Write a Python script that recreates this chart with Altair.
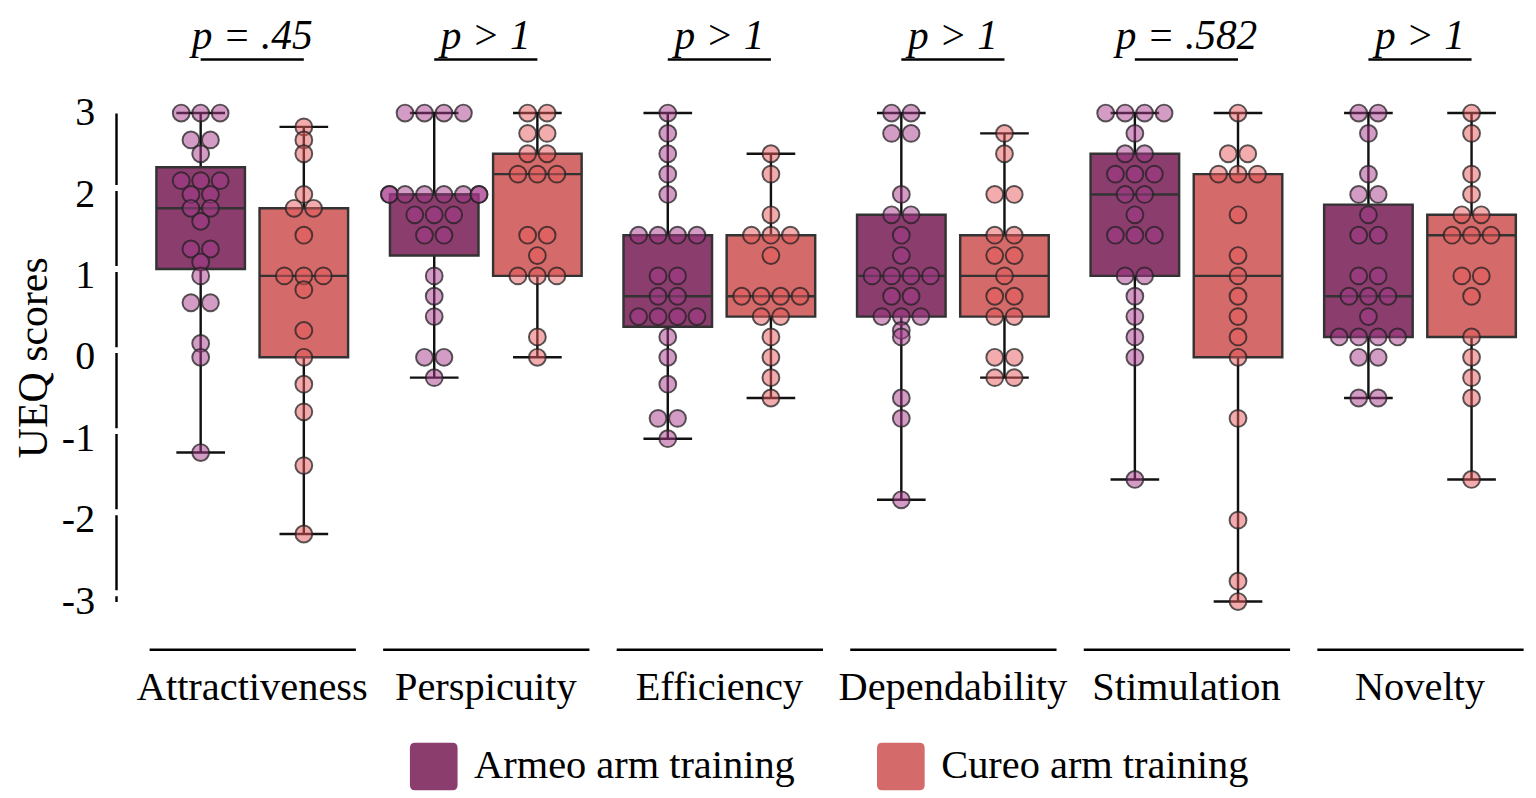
import altair as alt
import pandas as pd

categories = ["Attractiveness", "Perspicuity", "Efficiency", "Dependability", "Stimulation", "Novelty"]
groups = ["Armeo arm training", "Cureo arm training"]
p_labels = ["p = .45", "p > 1", "p > 1", "p > 1", "p = .582", "p > 1"]
y_ticks = [-3, -2, -1, 0, 1, 2, 3]

armeo_scores = {
    "Attractiveness": [3, 3, 3, 2.67, 2.67, 2.5, 2.17, 2.17, 2.17, 2.0, 2.0, 1.83, 1.83, 1.67,
                       1.33, 1.33, 1.17, 1.0, 0.67, 0.67, 0.17, 0.0, -1.17],
    "Perspicuity": [3, 3, 3, 3, 2, 2, 2, 2, 2, 2, 2, 2, 1.75, 1.75, 1.75, 1.5, 1.5, 1.0, 0.75,
                    0.5, 0, 0, -0.25],
    "Efficiency": [3, 2.75, 2.5, 2.25, 2.0, 1.5, 1.5, 1.5, 1.5, 1.0, 1.0, 0.75, 0.75, 0.5, 0.5,
                   0.5, 0.5, 0.25, 0.0, -0.33, -0.75, -0.75, -1.0],
    "Dependability": [3, 3, 2.75, 2.75, 2.0, 1.75, 1.75, 1.5, 1.25, 1, 1, 1, 1, 0.75, 0.75, 0.5,
                      0.5, 0.5, 0.33, 0.25, -0.5, -0.75, -1.75],
    "Stimulation": [3, 3, 3, 3, 2.75, 2.5, 2.5, 2.25, 2.25, 2.25, 2, 2, 1.75, 1.5, 1.5, 1.5, 1, 1,
                    0.75, 0.5, 0.25, 0, -1.5],
    "Novelty": [3, 3, 2.75, 2.25, 2, 2, 1.75, 1.5, 1.5, 1, 1, 0.75, 0.75, 0.75, 0.5, 0.25, 0.25,
                0.25, 0.25, 0, 0, -0.5, -0.5],
}

cureo_scores = {
    "Attractiveness": [2.83, 2.67, 2.5, 2.0, 1.83, 1.83, 1.5, 1, 1, 1, 0.83, 0.33, 0, -0.33,
                       -0.67, -1.33, -2.17],
    "Perspicuity": [3, 3, 2.75, 2.75, 2.5, 2.5, 2.25, 2.25, 2.25, 1.5, 1.5, 1.25, 1, 1, 1, 0.25, 0],
    "Efficiency": [2.5, 2.25, 1.75, 1.5, 1.5, 1.5, 1.25, 0.75, 0.75, 0.75, 0.75, 0.5, 0.5, 0.25,
                   0, -0.25, -0.5],
    "Dependability": [2.75, 2.5, 2, 2, 1.5, 1.5, 1.25, 1.25, 1.0, 0.75, 0.75, 0.5, 0.5, 0, 0,
                      -0.25, -0.25],
    "Stimulation": [3, 2.5, 2.5, 2.25, 2.25, 2.25, 1.75, 1.25, 1.0, 0.75, 0.5, 0.25, 0, -0.75,
                    -2.0, -2.75, -3.0],
    "Novelty": [3, 2.75, 2.25, 2.0, 1.75, 1.75, 1.5, 1.5, 1.5, 1, 1, 0.75, 0.25, 0, -0.25, -0.5,
                -1.5],
}

rows = []
for cat, p in zip(categories, p_labels):
    for g, src in zip(groups, [armeo_scores, cureo_scores]):
        for v in src[cat]:
            rows.append({"category": cat, "group": g, "score": v, "p": p})
df = pd.DataFrame(rows)

FONT = "Liberation Serif"
PANEL_W = 212
PANEL_H = 502
BAND = PANEL_W / 2
box_colors = ["#8b3d6d", "#d46a69"]
dot_colors = ["#a5398b", "#e85a5c"]
ROUNDED = ("M -0.78,-1 L 0.78,-1 Q 1,-1 1,-0.78 L 1,0.78 Q 1,1 0.78,1 L -0.78,1 "
           "Q -1,1 -1,0.78 L -1,-0.78 Q -1,-1 -0.78,-1 Z")

x_enc = alt.X(
    "group:N", sort=groups,
    scale=alt.Scale(paddingInner=0, paddingOuter=0),
    axis=alt.Axis(labels=False, ticks=False, title=None, domain=True,
                  domainColor="black", domainWidth=2.5, offset=36),
)
y_enc = alt.Y(
    "score:Q",
    scale=alt.Scale(domain=[-3, 3], nice=False, zero=False),
    axis=alt.Axis(values=y_ticks, labelExpr="'' + datum.value", title="UEQ scores",
                  titleFont=FONT, titleFontSize=43, titleFontWeight="normal",
                  titleColor="black", titlePadding=6,
                  labelFont=FONT, labelFontSize=41, labelColor="black", labelPadding=22,
                  ticks=False, domainColor="black", domainWidth=2.5,
                  domainDash=[77.3, 6], domainDashOffset=71.3, offset=34, grid=False),
)

box = alt.Chart().mark_boxplot(
    extent="min-max", size=91,
    box={"stroke": "#333333", "strokeWidth": 2.5},
    median={"color": "#333333", "thickness": 2.5, "opacity": 1},
    rule={"color": "#111111", "strokeWidth": 2.5},
    ticks={"color": "#111111", "size": 50, "thickness": 2.5, "opacity": 1},
).encode(
    x=x_enc, y=y_enc,
    color=alt.Color(
        "group:N", sort=groups, scale=alt.Scale(domain=groups, range=box_colors),
        legend=alt.Legend(title=None, orient="none", direction="horizontal",
                          legendX=268, legendY=647, padding=0,
                          labelFont=FONT, labelFontSize=41.5, labelColor="black", labelLimit=0,
                          symbolType=ROUNDED, symbolSize=2400, symbolStrokeWidth=0,
                          symbolOpacity=1, labelOffset=17, columnPadding=84),
    ),
)

dots = alt.Chart().transform_window(
    rank="row_number()", groupby=["category", "group", "score"]
).transform_joinaggregate(
    n="count()", groupby=["category", "group", "score"]
).transform_calculate(
    swarm="clamp(datum.rank - (datum.n + 1) / 2, -2.3, 2.3)"
).mark_circle(
    size=300, fillOpacity=0.5, stroke="#222222", strokeWidth=2, strokeOpacity=0.75, opacity=1
).encode(
    x=x_enc,
    xOffset=alt.XOffset("swarm:Q", scale=alt.Scale(domain=[-2.65, 2.65], nice=False, zero=False)),
    y=y_enc,
    fill=alt.Fill("group:N", scale=alt.Scale(domain=groups, range=dot_colors), legend=None),
)

first_row = dict(rn="row_number()")
ptext = alt.Chart().transform_window(**first_row, groupby=["category"]).transform_filter(
    "datum.rn == 1"
).mark_text(
    font=FONT, fontSize=42.5, fontStyle="italic", baseline="alphabetic", align="center",
    color="black"
).encode(x=alt.value(BAND), y=alt.value(-66), text="p:N")

pline = alt.Chart().transform_window(**first_row, groupby=["category"]).transform_filter(
    "datum.rn == 1"
).mark_rule(color="black", strokeWidth=2.5).encode(
    x=alt.datum(groups[0]), x2=alt.datum(groups[1]), y=alt.value(-55)
)

layered = alt.layer(box, dots, pline, ptext).properties(width=PANEL_W, height=PANEL_H)

chart = layered.facet(
    column=alt.Column(
        "category:N", sort=categories, title=None,
        header=alt.Header(labelOrient="bottom", labelFont=FONT, labelFontSize=41.5,
                          labelColor="black", labelPadding=19),
    ),
    data=df,
).properties(
    padding={"left": 5, "top": -3, "right": 5, "bottom": 0}
).configure(font=FONT).configure_view(stroke=None).configure_facet(spacing=22)

chart.save("out.html", embed_options={"renderer": "svg", "actions": False})
